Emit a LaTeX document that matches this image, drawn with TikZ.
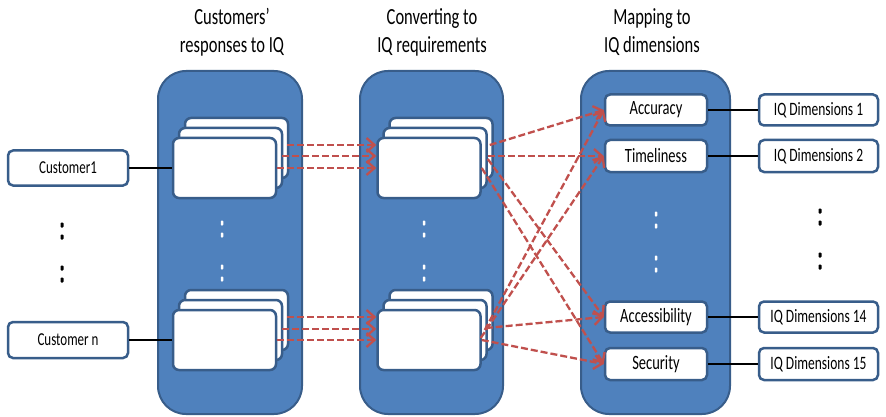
\documentclass[tikz,border=0pt]{standalone}
\usepackage{fontspec}
\setmainfont{Carlito}
\usetikzlibrary{arrows.meta,calc}
\definecolor{colfill}{HTML}{4F81BD}
\definecolor{colline}{HTML}{385D8A}
\definecolor{arrred}{HTML}{C0504D}
% text is set slightly stretched vertically
\newcommand{\tall}[1]{\scalebox{1}[1.4]{#1}}
\newcommand{\ttl}[2]{\tall{\fontsize{16.5}{20}\selectfont\begin{tabular}{@{}c@{}}#1\\#2\end{tabular}}}

\begin{document}
\begin{tikzpicture}[x=1pt,y=-1pt,
  column/.style={draw=colline, fill=colfill, line width=2pt, rounded corners=28pt,
    minimum width=#1, minimum height=343pt, inner sep=0pt},
  card/.style={draw=colline, fill=white, line width=2.5pt, rounded corners=6pt,
    minimum width=103pt, minimum height=60pt, inner sep=0pt},
  labelbox/.style={draw=colline, fill=white, line width=2.5pt, rounded corners=5pt,
    minimum width=#1, minimum height=32pt, inner sep=0pt},
  link/.style={black, line width=2pt},
  flow/.style={draw=arrred, line width=2.3pt, dash pattern=on 7pt off 3pt,
    -{Straight Barb[length=8pt,width=14pt]}},
  wdot/.style={fill=white, rounded corners=0.8pt, minimum width=2.5pt, minimum height=5pt, inner sep=0pt},
  bdot/.style={fill=black, rounded corners=0.8pt, minimum width=3pt, minimum height=5pt, inner sep=0pt},
  cfont/.style={font=\fontsize{13}{15}\selectfont},
  dfont/.style={font=\fontsize{13.5}{15}\selectfont},
  mfont/.style={font=\fontsize{14.5}{16}\selectfont}
]
\useasboundingbox (0,0) rectangle (886,417);

% column titles
\node (t1) at (232,32.5) {\ttl{Customers'}{responses to IQ}};
\node (t2) at (432,32.5) {\ttl{Converting to}{IQ requirements}};
\node (t3) at (652,32.5) {\ttl{Mapping to}{IQ dimensions}};

% the three stages
\node[column=144pt] (col1) at (230,242.5) {};
\node[column=143pt] (col2) at (431.5,242.5) {};
\node[column=149pt] (col3) at (655.5,242.5) {};

% customers
\node[labelbox=120pt, minimum height=35pt, cfont] (cust1) at (68,168) {\tall{Customer1}};
\node[labelbox=120pt, minimum height=36pt, cfont] (custn) at (68,340) {\tall{Customer n}};

% stacked response cards
\node[card] (r1b) at (236.5,148) {};
\node[card] (r1m) at (230.5,158) {};
\node[card] (r1f) at (224.5,168) {};
\node[card] (r2b) at (236.5,320) {};
\node[card] (r2m) at (230.5,330) {};
\node[card] (r2f) at (224.5,340) {};

% stacked requirement cards
\node[card] (q1b) at (441,148) {};
\node[card] (q1m) at (435,158) {};
\node[card] (q1f) at (429,168) {};
\node[card] (q2b) at (441,320) {};
\node[card] (q2m) at (435,330) {};
\node[card] (q2f) at (429,340) {};

% quality dimensions
\node[labelbox=102pt, minimum height=31pt, mfont] (acc) at (656,110) {\tall{Accuracy}};
\node[labelbox=102pt, mfont] (tim) at (656,156) {\tall{Timeliness}};
\node[labelbox=102pt, minimum height=31pt, mfont] (accs) at (656,317) {\tall{Accessibility}};
\node[labelbox=102pt, mfont] (sec) at (656,364) {\tall{Security}};

\node[labelbox=119pt, minimum height=31pt, dfont] (d1) at (818.5,110) {\tall{IQ Dimensions 1}};
\node[labelbox=119pt, dfont] (d2) at (818.5,156) {\tall{IQ Dimensions 2}};
\node[labelbox=119pt, minimum height=31pt, dfont] (d14) at (818.5,317) {\tall{IQ Dimensions 14}};
\node[labelbox=119pt, dfont] (d15) at (818.5,364) {\tall{IQ Dimensions 15}};

% vertical ellipses
\foreach \y [count=\i] in {225,237,268,280} \node[bdot] (lk\i) at (62,\y) {};
\foreach \y [count=\i] in {223,235,267,279} {
  \node[wdot] (ak\i) at (222,\y) {};
  \node[wdot] (bk\i) at (424,\y) {};
}
\foreach \y [count=\i] in {214,226,258,270} \node[wdot] (ck\i) at (656,\y) {};
\foreach \y [count=\i] in {211,223,255,267} \node[bdot] (rk\i) at (820,\y) {};

% solid links
\draw[link] (cust1.east) -- (r1f.west);
\draw[link] (custn.east) -- (r2f.west);
\draw[link] (acc.east) -- (d1.west);
\draw[link] (tim.east) -- (d2.west);
\draw[link] (accs.east) -- (d14.west);
\draw[link] (sec.east) -- (d15.west);

% responses -> requirements
\coordinate (a1) at ([xshift=-2pt,yshift=3pt]r1b.east);
\coordinate (a2) at ([xshift=-1pt,yshift=2pt]r1m.east);
\coordinate (a3) at (r1f.east);
\coordinate (b1) at ([xshift=-2pt,yshift=3pt]r2b.east);
\coordinate (b2) at ([xshift=-1pt,yshift=1pt]r2m.east);
\coordinate (b3) at (r2f.east);
\foreach \c in {a1,a2,a3} \draw[flow] (\c) -- (\c -| q1f.west);
\foreach \c in {b1,b2,b3} \draw[flow] (\c) -- (\c -| q2f.west);

% requirements -> dimensions
\coordinate (u1) at ([xshift=-4pt,yshift=3pt]q1b.east);
\coordinate (u2) at ([yshift=2pt]q1m.east);
\coordinate (u3) at ([yshift=-1pt]q1m.east);
\coordinate (u4) at (q1f.east);
\coordinate (v1) at ([xshift=-3pt]q2m.east);
\coordinate (v2) at ([xshift=-1pt,yshift=2pt]q2f.east);
\coordinate (v3) at ([xshift=-2pt,yshift=2pt]q2m.east);
\coordinate (v4) at (q2f.east);
\draw[flow] (u1) -- (acc.west);
\draw[flow] (u2) -- (tim.west);
\draw[flow] (u3) -- (accs.west);
\draw[flow] (u4) -- (sec.west);
\draw[flow] (v1) -- (acc.west);
\draw[flow] (v2) -- (tim.west);
\draw[flow] (v3) -- (accs.west);
\draw[flow] (v4) -- (sec.west);
\end{tikzpicture}
\end{document}
